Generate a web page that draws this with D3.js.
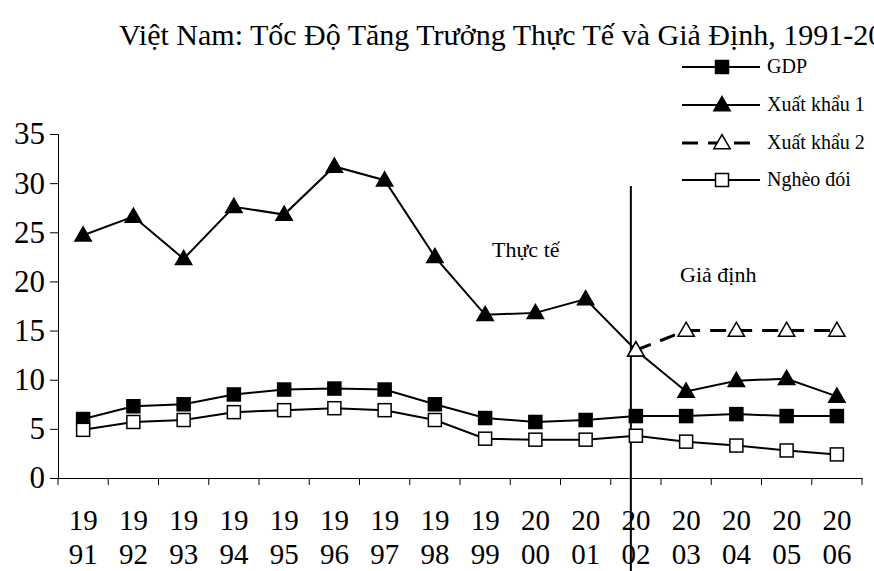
<!DOCTYPE html>
<html><head><meta charset="utf-8">
<script src="https://cdn.jsdelivr.net/npm/d3@7"></script>
<style>
html,body{margin:0;padding:0;background:#fff;}
svg{display:block;}
svg text{font-family:"Liberation Serif","Times New Roman",serif !important;}
</style></head>
<body>
<svg id="chart" width="874" height="571"></svg>
<script>
const years = ["1991","1992","1993","1994","1995","1996","1997","1998","1999","2000","2001","2002","2003","2004","2005","2006"];
const gdp = [6.0,7.3,7.5,8.5,9.0,9.1,9.0,7.5,6.1,5.7,5.9,6.3,6.3,6.5,6.3,6.3];
const export1 = [24.7,26.6,22.3,27.6,26.8,31.7,30.3,22.5,16.6,16.8,18.2,13.0,8.8,9.9,10.1,8.3];
const export2Years = ["2002","2003","2004","2005","2006"];
const export2 = [13.0,15.0,15.0,15.0,15.0];
const poverty = [4.9,5.7,5.9,6.7,6.9,7.1,6.9,5.9,4.0,3.9,3.9,4.3,3.7,3.3,2.8,2.4];
const yTicks = [0,5,10,15,20,25,30,35];
const legendNames = ["GDP","Xuất khẩu 1","Xuất khẩu 2","Nghèo đói"];
const titleText = "Việt Nam: Tốc Độ Tăng Trưởng Thực Tế và Giả Định, 1991-2006";

const svg = d3.select("#chart");
const x = d3.scaleBand().domain(years).range([58, 862]).padding(0);
const bw = x.bandwidth();
const cx = d => x(d) + bw / 2;
const y = d3.scaleLinear().domain([0, 35]).range([478, 134]);

// title
svg.append("text").attr("x", 119).attr("y", 45)
  .attr("font-size", 30).attr("fill", "#000").text(titleText);

// y axis
const yAxis = svg.append("g").attr("transform", "translate(58,0)")
  .call(d3.axisLeft(y).tickValues(yTicks).tickSize(8).tickPadding(5));
yAxis.attr("font-family", null);
yAxis.select(".domain").attr("stroke", "#000").attr("stroke-width", 1);
yAxis.selectAll(".tick line").attr("stroke", "#000");
yAxis.selectAll(".tick text").attr("font-size", 31).attr("fill", "#000");

// x axis
const xAxis = svg.append("g").attr("transform", `translate(0,${y(0)})`)
  .call(d3.axisBottom(x).tickSize(0).tickFormat(""));
xAxis.select(".domain").attr("stroke", "#000").attr("stroke-width", 1);
const bounds = years.map(d => x(d)).concat([x(years[years.length-1]) + bw]);
xAxis.selectAll(".bnd").data(bounds).join("line").attr("class", "bnd")
  .attr("x1", d => d).attr("x2", d => d).attr("y1", 0).attr("y2", 7).attr("stroke", "#000");
const xl = svg.append("g");
years.forEach(yr => {
  const t = xl.append("text").attr("text-anchor", "middle").attr("font-size", 29).attr("fill", "#000");
  t.append("tspan").attr("x", cx(yr)).attr("y", 530).text(yr.slice(0, 2));
  t.append("tspan").attr("x", cx(yr)).attr("y", 564).text(yr.slice(2));
});

// divider
const divX = x("2002") + bw * 0.4;
svg.append("line").attr("x1", divX).attr("x2", divX).attr("y1", 186).attr("y2", 571)
  .attr("stroke", "#000").attr("stroke-width", 2);

// annotations
svg.append("text").attr("x", 492).attr("y", 257).attr("font-size", 22).text("Thực tế");
svg.append("text").attr("x", 680).attr("y", 282).attr("font-size", 22).text("Giả định");

const line = d3.line().x(d => cx(d[0])).y(d => y(d[1]));
const zip = (a, b) => a.map((d, i) => [d, b[i]]);

const sqSize = 13;
const tri = d3.symbol().type(d3.symbolTriangle).size(115);

function drawSeries(data, opts) {
  svg.append("path").datum(data).attr("d", line).attr("fill", "none")
    .attr("stroke", "#000").attr("stroke-width", opts.dash ? 3 : 2)
    .attr("stroke-dasharray", opts.dash ? "16,10" : null);
}
function drawMarkers(data, type, filled) {
  const g = svg.append("g");
  if (type === "square") {
    g.selectAll("rect").data(data).join("rect")
      .attr("x", d => cx(d[0]) - sqSize/2).attr("y", d => y(d[1]) - sqSize/2)
      .attr("width", sqSize).attr("height", sqSize)
      .attr("fill", filled ? "#000" : "#fff").attr("stroke", "#000").attr("stroke-width", 1.5);
  } else {
    g.selectAll("path").data(data).join("path")
      .attr("transform", d => `translate(${cx(d[0])},${y(d[1])+1})`)
      .attr("d", tri).attr("fill", filled ? "#000" : "#fff")
      .attr("stroke", "#000").attr("stroke-width", 1.5);
  }
}

const gdpD = zip(years, gdp), e1D = zip(years, export1), e2D = zip(export2Years, export2), pvD = zip(years, poverty);
drawSeries(gdpD, {}); drawSeries(e1D, {}); drawSeries(pvD, {}); drawSeries(e2D, {dash: true});
drawMarkers(gdpD, "square", true);
drawMarkers(e1D, "triangle", true);
drawMarkers(pvD, "square", false);
drawMarkers(e2D, "triangle", false);

// legend
const legRows = [67, 105, 143, 180];
const lg = svg.append("g");
legendNames.forEach((name, i) => {
  const yy = legRows[i];
  lg.append("line").attr("x1", 682).attr("x2", 760).attr("y1", yy).attr("y2", yy)
    .attr("stroke", "#000").attr("stroke-width", i === 2 ? 3 : 2)
    .attr("stroke-dasharray", i === 2 ? "16,10" : null);
  if (i === 0 || i === 3) {
    lg.append("rect").attr("x", 722 - sqSize/2).attr("y", yy - sqSize/2).attr("width", sqSize).attr("height", sqSize)
      .attr("fill", i === 0 ? "#000" : "#fff").attr("stroke", "#000").attr("stroke-width", 1.5);
  } else {
    lg.append("path").attr("transform", `translate(722,${yy+1})`).attr("d", tri)
      .attr("fill", i === 1 ? "#000" : "#fff").attr("stroke", "#000").attr("stroke-width", 1.5);
  }
  lg.append("text").attr("x", 767).attr("y", yy + 6).attr("font-size", 20).text(name);
});
</script>
</body></html>
